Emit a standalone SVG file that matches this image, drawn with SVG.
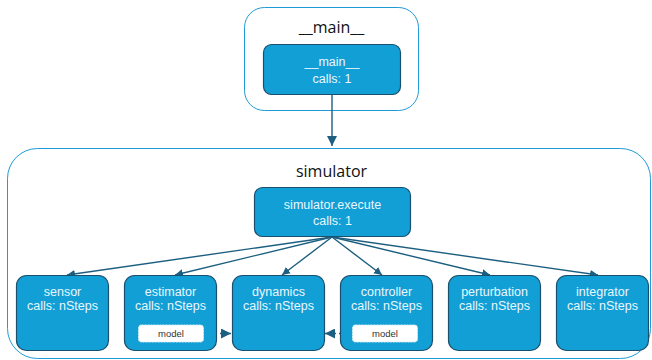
<svg xmlns="http://www.w3.org/2000/svg" width="652" height="360" viewBox="0 0 652 360">
<style>
.cluster{fill:#ffffff;stroke:#1e9ad6;stroke-width:1}
.ctitle{font-family:"Open Sans","Liberation Sans",sans-serif;font-size:16px;fill:#111111;text-anchor:middle}
.node{fill:#129fd6;stroke:#1b4f6e;stroke-width:1.2}
.ntext{font-family:"Liberation Sans",Arial,sans-serif;font-size:12.5px;fill:#eaf6fc;text-anchor:middle}
.model{fill:#ffffff;stroke:#d8eef8;stroke-width:1;stroke-dasharray:2 1}
.mtext{font-family:"Liberation Sans",Arial,sans-serif;font-size:9.5px;fill:#333333;text-anchor:middle}
.edge{fill:none;stroke:#1c5f80;stroke-width:1.4}
.dash{fill:none;stroke:#1c5f80;stroke-width:1.4;stroke-dasharray:5 3}
</style>
<defs>
<marker id="arr" viewBox="0 0 10 10" refX="10" refY="5" markerWidth="8" markerHeight="8" markerUnits="userSpaceOnUse" orient="auto">
<path d="M0,0 L10,5 L0,10 z" fill="#1c5f80"/>
</marker>
<marker id="arrb" viewBox="0 0 10 10" refX="10" refY="5" markerWidth="10" markerHeight="10" markerUnits="userSpaceOnUse" orient="auto">
<path d="M0,0 L10,5 L0,10 z" fill="#1c5f80"/>
</marker>
</defs>
<rect width="652" height="360" fill="#ffffff"/>
<g id="cluster-main">
<rect class="cluster" x="244.5" y="7.5" width="174" height="103" rx="20"/>
<text class="ctitle" x="331.5" y="33">__main__</text>
</g>
<g id="cluster-simulator">
<rect class="cluster" x="7.5" y="148.5" width="643" height="210" rx="30"/>
<text class="ctitle" x="331.5" y="177">simulator</text>
</g>
<g id="connectors">
<path class="edge" d="M332,94 L332,146" marker-end="url(#arrb)"/>
<path class="edge" d="M332,237 L67,275" marker-end="url(#arr)"/>
<path class="edge" d="M332,237 L175,275" marker-end="url(#arr)"/>
<path class="edge" d="M332,237 L282,275" marker-end="url(#arr)"/>
<path class="edge" d="M332,237 L382,275" marker-end="url(#arr)"/>
<path class="edge" d="M332,237 L490,275" marker-end="url(#arr)"/>
<path class="edge" d="M332,237 L598,275" marker-end="url(#arr)"/>
<path class="dash" d="M204,333.5 L231,333.5" marker-end="url(#arrb)"/>
<path class="dash" d="M352,333.5 L325,333.5" marker-end="url(#arrb)"/>
</g>
<g id="node-main">
<rect class="node" x="263.5" y="44.5" width="137" height="50" rx="8"/>
<text class="ntext" x="332" y="66">__main__</text>
<text class="ntext" x="332" y="83">calls: 1</text>
</g>
<g id="node-execute">
<rect class="node" x="254.5" y="187.5" width="156" height="49" rx="8"/>
<text class="ntext" x="332.5" y="209">simulator.execute</text>
<text class="ntext" x="332.5" y="225">calls: 1</text>
</g>
<g id="node-sensor">
<rect class="node" x="16.5" y="275.5" width="92" height="75" rx="10"/>
<text class="ntext" x="62.5" y="295.5">sensor</text>
<text class="ntext" x="62.5" y="310">calls: nSteps</text>
</g>
<g id="node-estimator">
<rect class="node" x="124.5" y="275.5" width="92" height="75" rx="10"/>
<text class="ntext" x="170.5" y="295.5">estimator</text>
<text class="ntext" x="170.5" y="310">calls: nSteps</text>
<rect class="model" x="138.5" y="325" width="65" height="17" rx="3"/>
<text class="mtext" x="171" y="337">model</text>
</g>
<g id="node-dynamics">
<rect class="node" x="232.5" y="275.5" width="92" height="75" rx="10"/>
<text class="ntext" x="278.5" y="295.5">dynamics</text>
<text class="ntext" x="278.5" y="310">calls: nSteps</text>
</g>
<g id="node-controller">
<rect class="node" x="340.5" y="275.5" width="92" height="75" rx="10"/>
<text class="ntext" x="386.5" y="295.5">controller</text>
<text class="ntext" x="386.5" y="310">calls: nSteps</text>
<rect class="model" x="352.5" y="325" width="65" height="17" rx="3"/>
<text class="mtext" x="385" y="337">model</text>
</g>
<g id="node-perturbation">
<rect class="node" x="448.5" y="275.5" width="92" height="75" rx="10"/>
<text class="ntext" x="494.5" y="295.5">perturbation</text>
<text class="ntext" x="494.5" y="310">calls: nSteps</text>
</g>
<g id="node-integrator">
<rect class="node" x="556.5" y="275.5" width="92" height="75" rx="10"/>
<text class="ntext" x="602.5" y="295.5">integrator</text>
<text class="ntext" x="602.5" y="310">calls: nSteps</text>
</g>
</svg>
